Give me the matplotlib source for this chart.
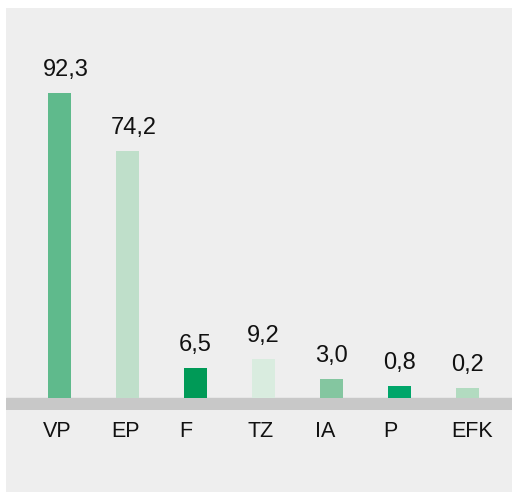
import matplotlib.pyplot as plt
from matplotlib.patches import Rectangle

categories = ["VP", "EP", "F", "TZ", "IA", "P", "EFK"]
values = [92.3, 74.2, 6.5, 9.2, 3.0, 0.8, 0.2]
labels = ["92,3", "74,2", "6,5", "9,2", "3,0", "0,8", "0,2"]
colors = ["#5fba8c", "#bfdfca", "#009a57", "#d9ecdf", "#84c6a0", "#00a66a", "#b2dbc0"]

plt.rcParams["font.family"] = ["Liberation Sans", "DejaVu Sans"]

fig = plt.figure(figsize=(5.12, 4.93), dpi=100, facecolor="white")
fig.add_artist(Rectangle((6 / 512, 1 / 493), 506 / 512, 484 / 493,
                         transform=fig.transFigure, facecolor="#eeeeee",
                         edgecolor="none", zorder=-10))

ax = fig.add_axes([6 / 512, 83 / 493, 506 / 512, 402 / 493])
ax.set_facecolor("none")

base = -2.92     # bars start a little below zero, at the top of the grey band
ymin = -6.67
ax.set_xlim(-0.787, 6.654)
ax.set_ylim(ymin, 118.84)

width = 0.34
x = list(range(len(categories)))
heights = [v - base for v in values]
ax.bar(x, heights, bottom=base, width=width, color=colors, zorder=2)
ax.axhspan(ymin, base, color="#c8c8c8", zorder=1)

# value labels, left aligned slightly before each bar
for xi, v, lab in zip(x, values, labels):
    ax.annotate(lab, (xi - width / 2, v), xytext=(-3.5, 12.3),
                textcoords="offset points", ha="left", va="baseline",
                fontsize=17, color="#111111")

# category labels below the grey band
for xi, cat in zip(x, categories):
    ax.annotate(cat, (xi - width / 2, 0), xycoords=("data", "axes fraction"),
                xytext=(-3.5, -7.6), textcoords="offset points",
                ha="left", va="top", fontsize=15.5, color="#111111",
                annotation_clip=False)

ax.set_xticks([])
ax.set_yticks([])
for s in ax.spines.values():
    s.set_visible(False)

fig.savefig("out.png", dpi=100, facecolor="white")
